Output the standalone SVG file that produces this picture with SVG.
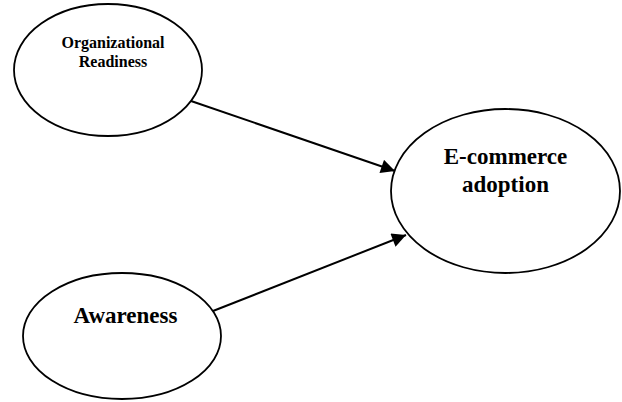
<svg xmlns="http://www.w3.org/2000/svg" width="622" height="402" viewBox="0 0 622 402">
  <style>
    .node ellipse { fill: #ffffff; stroke: #000000; stroke-width: 1.8; }
    .label { font-family: "Liberation Serif", "Times New Roman", serif; font-weight: bold; fill: #000000; text-anchor: middle; }
    .small { font-size: 16px; }
    .big { font-size: 23px; }
    .edge { stroke: #000000; stroke-width: 2; fill: none; marker-end: url(#arrow); }
  </style>
  <defs>
    <marker id="arrow" viewBox="0 0 10 10" refX="10" refY="5" markerWidth="8" markerHeight="7" markerUnits="strokeWidth" orient="auto">
      <path d="M0,0 L10,5 L0,10 z" fill="#000000"/>
    </marker>
  </defs>
  <rect width="622" height="402" fill="#ffffff"/>

  <g id="connectors">
    <line class="edge" x1="191" y1="101" x2="395" y2="171"/>
    <line class="edge" x1="213" y1="311" x2="406" y2="235"/>
  </g>

  <g id="organizational-readiness" class="node">
    <ellipse cx="108" cy="70" rx="94" ry="66"/>
    <text class="label small" x="113" y="48">Organizational</text>
    <text class="label small" x="113" y="67">Readiness</text>
  </g>

  <g id="ecommerce-adoption" class="node">
    <ellipse cx="505.5" cy="191" rx="114.5" ry="82"/>
    <text class="label big" x="505.5" y="164">E-commerce</text>
    <text class="label big" x="505.5" y="192">adoption</text>
  </g>

  <g id="awareness" class="node">
    <ellipse cx="122" cy="336" rx="99" ry="63"/>
    <text class="label big" x="125.5" y="323">Awareness</text>
  </g>
</svg>
